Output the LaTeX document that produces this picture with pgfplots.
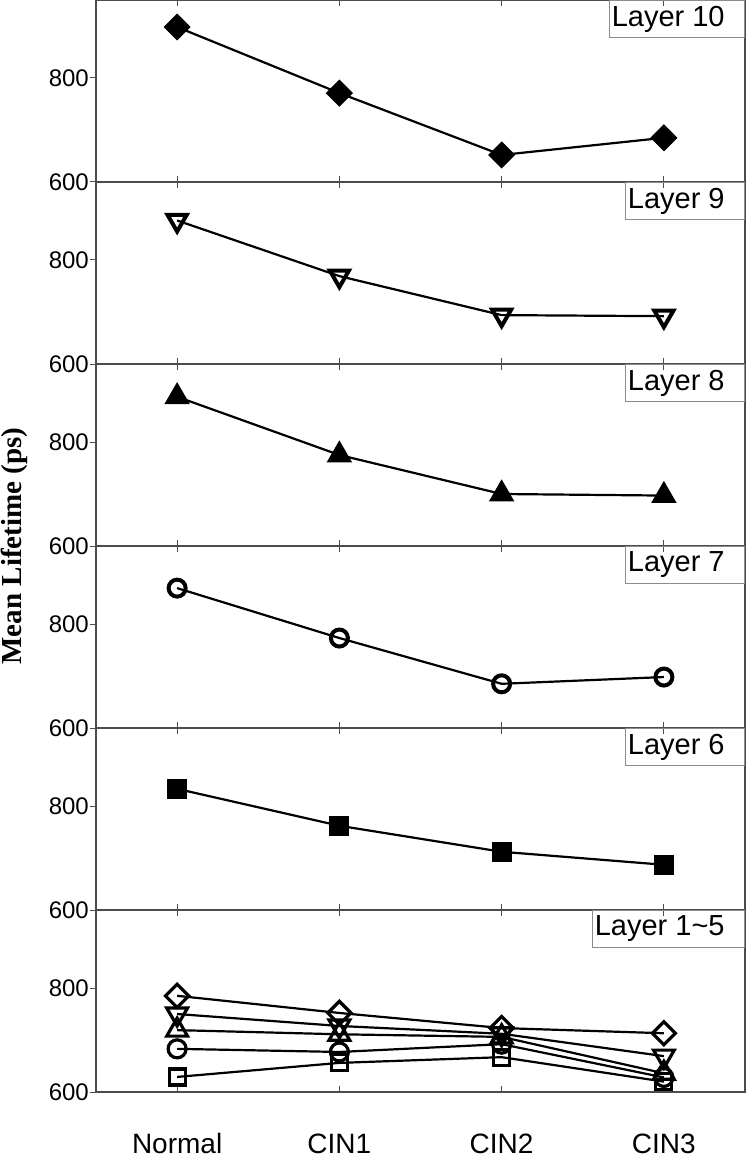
\documentclass[border=0pt]{standalone}
\usepackage{fontspec}
\setmainfont{Liberation Sans}
\newfontfamily\labelfont{Liberation Serif}
\usepackage{pgfplots}
\pgfplotsset{compat=1.18}
\usepgfplotslibrary{groupplots}
\usetikzlibrary{calc}

\pgfplotsset{
  panel/.style={
    width=649bp, height=182bp, scale only axis,
    xmin=-0.5, xmax=3.5, ymin=600, ymax=950,
    xtick={0,1,2,3}, xticklabels={}, ytick={600,800},
    axis line style={black!70, line width=1.2bp},
    tick style={black!70, line width=1bp},
    xtick align=inside, ytick align=outside,
    major tick length=6bp,
    minor tick num=0,
    /pgf/number format/assume math mode=true,
    yticklabel style={font=\fontsize{24bp}{28bp}\selectfont, inner xsep=1bp},
    xticklabel style={font=\fontsize{28bp}{32bp}\selectfont, anchor=base, inner ysep=0pt, yshift=-61bp},
  },
  ser/.style={black, line width=2.2bp, mark options={solid, line width=3bp}},
}
\newcommand\tag[1]{\node[draw=black!45, line width=0.8bp, anchor=north east,
  inner xsep=2bp, inner ysep=0pt, minimum height=37bp,
  font=\fontsize{29bp}{34bp}\selectfont] at (rel axis cs:1,1) {#1\kern18bp};}

\begin{document}
\begin{tikzpicture}
\begin{groupplot}[group style={group name=G, group size=1 by 6, vertical sep=0pt}, panel]
% Layer 10
\nextgroupplot
\addplot[ser, mark=square*, mark size=8.5bp, mark options={rotate=45, fill=black}] coordinates {(0,898) (1,771) (2,652) (3,685)};
\tag{Layer 10}
% Layer 9
\nextgroupplot
\addplot[ser, mark=triangle, mark size=11bp, mark options={rotate=180, line width=4bp, fill=white}] coordinates {(0,876) (1,769) (2,694) (3,692)};
\tag{Layer 9}
% Layer 8
\nextgroupplot
\addplot[ser, mark=triangle*, mark size=12.5bp, mark options={fill=black}] coordinates {(0,887) (1,775) (2,700) (3,697)};
\tag{Layer 8}
% Layer 7
\nextgroupplot
\addplot[ser, mark=o, mark size=8.5bp, mark options={line width=4bp, fill=white}] coordinates {(0,869) (1,773) (2,685) (3,698)};
\tag{Layer 7}
% Layer 6
\nextgroupplot
\addplot[ser, mark=square*, mark size=9bp, mark options={fill=black}] coordinates {(0,833) (1,762) (2,712) (3,687)};
\tag{Layer 6}
% Layer 1~5
\nextgroupplot[xticklabels={Normal,CIN1,CIN2,CIN3}]
\addplot[ser, mark=square, mark size=8bp, mark options={line width=3.2bp, fill=white}] coordinates {(0,629) (1,656) (2,667) (3,620)};
\addplot[ser, mark=o, mark size=9bp, mark options={line width=3.2bp, fill=white}] coordinates {(0,683) (1,677) (2,692) (3,628)};
\addplot[ser, mark=triangle, mark size=12bp, mark options={line width=3.2bp, fill=white}] coordinates {(0,719) (1,711) (2,706) (3,636)};
\addplot[ser, mark=triangle, mark size=12bp, mark options={rotate=180, line width=3.2bp, fill=white}] coordinates {(0,750) (1,727) (2,712) (3,669)};
\addplot[ser, mark=square, mark size=8.2bp, mark options={rotate=45, line width=3.2bp, fill=white}] coordinates {(0,785) (1,752) (2,723) (3,713)};
\tag{Layer 1\textasciitilde5}
\end{groupplot}
\node[rotate=90, font=\labelfont\bfseries\fontsize{29bp}{34bp}\selectfont]
  at ($(G c1r1.north west)!0.5!(G c1r6.south west)+(-82bp,0)$) {Mean Lifetime (ps)};
\pgfresetboundingbox
\path ($(G c1r1.north west)+(-96bp,0)$) rectangle ($(G c1r6.south east)+(0,-65bp)$);
\end{tikzpicture}
\end{document}
